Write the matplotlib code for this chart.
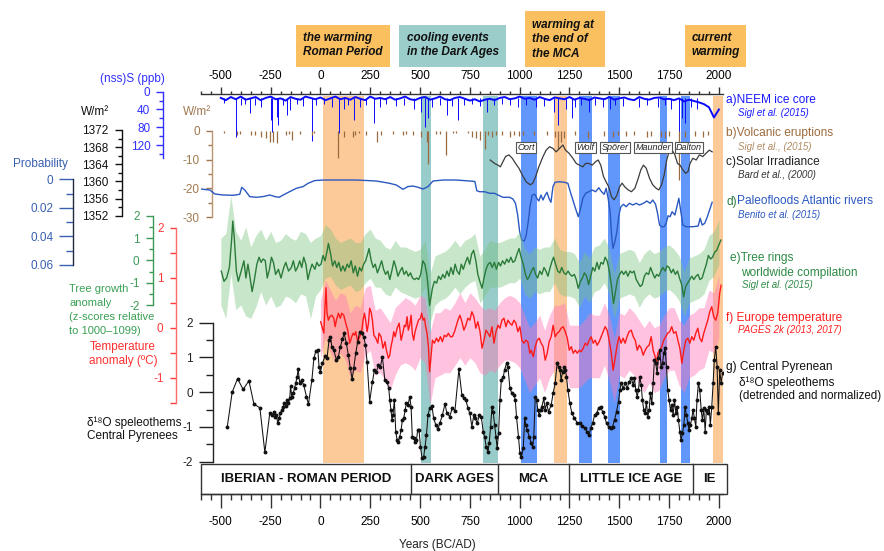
import numpy as np
import matplotlib
matplotlib.use("Agg")
import matplotlib.pyplot as plt
from matplotlib.patches import Rectangle

plt.rcParams['font.family'] = ['Liberation Sans', 'DejaVu Sans']
plt.rcParams['axes.unicode_minus'] = False

# ---------------------------------------------------------------- data
# a) NEEM ice core non-sea-salt sulphur (ppb): 25-yr background + eruption spikes
NEEM_BASE = [14, 19, 12, 17, 11, 18, 15, 12, 19, 14,
             11, 17, 15, 20, 12, 16, 18, 11, 14, 17,
             13, 19, 15, 11, 17, 14, 18, 12, 16, 19,
             11, 16, 14, 17, 12, 18, 15, 11, 17, 19,
             14, 12, 18, 15, 11, 17, 19, 14, 12, 16,
             20, 17, 22, 18, 16, 19, 14, 12, 17, 15,
             11, 16, 14, 18, 12, 16, 19, 13, 15, 17,
             12, 18, 14, 16, 19, 13, 15, 17, 12, 18,
             15, 13, 17, 19, 12, 16, 18, 14, 13, 17,
             16, 19, 15, 22, 18, 21, 24, 28, 35, 58,
             40]
NEEM_BASE_YEARS = np.arange(-500, 2001, 25)
NEEM_SPIKES = [(-483, 25), (-426, 103), (-400, 30), (-380, 28), (-355, 49), (-330, 30),
               (-300, 35), (-249, 64), (-243, 90), (-218, 56), (-211, 75), (-190, 30),
               (-166, 52), (-154, 41), (-120, 28), (-90, 32), (-44, 110), (-20, 30),
               (20, 28), (60, 35), (92, 94), (120, 40), (140, 30), (167, 64), (200, 35),
               (230, 30), (268, 71), (300, 35), (330, 28), (380, 32), (420, 30), (470, 38),
               (505, 45), (526, 80), (538, 60), (560, 35), (600, 30), (635, 52), (660, 32),
               (690, 64), (720, 30), (760, 28), (800, 32), (837, 45), (870, 30), (910, 28),
               (950, 30), (990, 35), (1030, 30), (1080, 35), (1120, 32), (1170, 45),
               (1191, 75), (1230, 40), (1265, 59), (1280, 35), (1310, 30), (1346, 45),
               (1380, 30), (1420, 35), (1455, 40), (1480, 30), (1520, 32), (1600, 35),
               (1640, 30), (1695, 35), (1730, 30), (1760, 38), (1800, 120), (1815, 60),
               (1830, 70), (1860, 35), (1890, 40)]

# b) volcanic forcing (W/m2)
VOLCANIC = [(-483, -0.9), (-418, -1.5), (-405, -1.2), (-350, -1.5), (-329, -1.5), (-296, -2.1),
            (-274, -2.7), (-254, -3.8), (-238, -3.8), (-218, -4.4), (-174, -1.5), (-157, -1.3),
            (-141, -3.2), (-104, -1.3), (-40, -1.5), (-33, -0.9), (90, -9.6), (117, -2.1),
            (164, -2.1), (175, -1.5), (194, -0.9), (227, -1.5), (284, -3.8), (306, -1.5),
            (364, -1.2), (414, -1.5), (428, -1.2), (465, -1.5), (506, -2.1), (535, -3.8),
            (541, -11.4), (582, -1.2), (598, -1.2), (632, -8.5), (665, -0.9), (682, -0.9),
            (740, -0.9), (759, -2.1), (781, -2.7), (802, -3.3), (825, -6.3), (842, -1.5),
            (863, -2.1), (883, -1.5), (911, -1.5), (949, -2.1), (970, -1.5), (997, -1.8),
            (1018, -1.5), (1070, -1.5), (1139, -1.5), (1177, -2.1), (1191, -6.3), (1205, -3.9),
            (1222, -2.5), (1277, -1.5), (1343, -2.7), (1424, -1.8), (1467, -2.1), (1493, -1.5),
            (1536, -1.8), (1574, -1.5), (1640, -2.1), (1661, -1.8), (1709, -2.1), (1730, -2.5),
            (1747, -1.8), (1800, -17.0), (1830, -2.1), (1882, -1.8), (1920, -2.1), (1947, -1.5)]

# c) total solar irradiance (W/m2)
SOLAR = [(852, 1365.0), (874, 1364.2), (891, 1363.8), (903, 1363.4), (916, 1364.6), (929, 1365.8),
         (946, 1366.2), (963, 1365.4), (979, 1364.2), (996, 1363.1), (1013, 1361.5), (1033, 1359.9),
         (1053, 1359.2), (1066, 1359.6), (1080, 1361.1), (1096, 1363.4), (1117, 1365.8),
         (1133, 1367.3), (1150, 1368.1), (1167, 1367.7), (1183, 1366.9), (1200, 1367.7),
         (1217, 1368.5), (1230, 1367.3), (1247, 1366.6), (1267, 1365.4), (1284, 1364.2),
         (1300, 1363.8), (1317, 1363.4), (1331, 1364.2), (1347, 1364.2), (1364, 1363.8),
         (1381, 1364.6), (1394, 1365.0), (1407, 1363.8), (1421, 1361.1), (1434, 1359.9),
         (1447, 1358.7), (1461, 1356.4), (1474, 1355.7), (1488, 1356.8), (1501, 1358.7),
         (1514, 1359.6), (1528, 1358.7), (1545, 1358.0), (1561, 1357.6), (1578, 1358.4),
         (1595, 1360.7), (1608, 1362.7), (1621, 1363.8), (1635, 1363.1), (1652, 1360.7),
         (1668, 1359.2), (1685, 1358.4), (1698, 1358.0), (1712, 1359.2), (1725, 1361.5),
         (1738, 1365.0), (1752, 1367.3), (1765, 1367.3), (1779, 1366.2), (1792, 1364.2),
         (1805, 1363.8), (1819, 1362.7), (1832, 1361.9), (1845, 1362.3), (1855, 1364.2),
         (1869, 1365.4), (1886, 1365.0), (1902, 1366.2), (1919, 1365.8), (1936, 1366.6),
         (1952, 1367.3), (1966, 1366.9)]

# d) palaeoflood probability, Atlantic rivers
FLOODS = [(-600, 0.0068), (-555, 0.0075), (-530, 0.0103), (-488, 0.0110), (-438, 0.0112),
          (-405, 0.0105), (-395, 0.0056), (-380, 0.0075), (-355, 0.0121), (-321, 0.0126),
          (-288, 0.0121), (-254, 0.0110), (-229, 0.0121), (-207, 0.0126), (-187, 0.0110),
          (-154, 0.0086), (-121, 0.0063), (-87, 0.0051), (-62, 0.0028), (-29, 0.0009),
          (13, 0.0005), (180, 0.0005), (281, 0.0012), (347, 0.0028), (381, 0.0040),
          (414, 0.0070), (439, 0.0051), (464, 0.0047), (490, 0.0056), (515, 0.0068),
          (540, 0.0051), (565, 0.0012), (615, 0.0005), (682, 0.0005), (749, 0.0012),
          (775, 0.0015), (785, 0.0080), (799, 0.0087), (824, 0.0087), (849, 0.0098),
          (874, 0.0098), (891, 0.0110), (916, 0.0126), (949, 0.0126), (966, 0.0138),
          (979, 0.0168), (990, 0.0250), (1000, 0.0367), (1010, 0.0425), (1023, 0.0432),
          (1033, 0.0390), (1043, 0.0297), (1053, 0.0180), (1063, 0.0110), (1076, 0.0105),
          (1086, 0.0133), (1096, 0.0152), (1107, 0.0110), (1117, 0.0145), (1127, 0.0114),
          (1137, 0.0091), (1147, 0.0133), (1157, 0.0161), (1167, 0.0052), (1177, 0.0021),
          (1200, 0.0017), (1225, 0.0021), (1242, 0.0028), (1254, 0.0087), (1267, 0.0145),
          (1280, 0.0203), (1294, 0.0262), (1304, 0.0215), (1317, 0.0133), (1331, 0.0098),
          (1347, 0.0087), (1364, 0.0075), (1381, 0.0087), (1397, 0.0059), (1411, 0.0087),
          (1424, 0.0105), (1434, 0.0063), (1444, 0.0133), (1454, 0.0227), (1461, 0.0390),
          (1468, 0.0483), (1478, 0.0437), (1488, 0.0367), (1498, 0.0250), (1508, 0.0192),
          (1521, 0.0175), (1534, 0.0192), (1551, 0.0168), (1568, 0.0180), (1585, 0.0168),
          (1601, 0.0180), (1621, 0.0168), (1638, 0.0152), (1655, 0.0168), (1668, 0.0145),
          (1682, 0.0175), (1692, 0.0238), (1702, 0.0320), (1712, 0.0332), (1725, 0.0332),
          (1735, 0.0308), (1745, 0.0255), (1755, 0.0262), (1765, 0.0227), (1779, 0.0250),
          (1789, 0.0192), (1799, 0.0133), (1809, 0.0227), (1819, 0.0320), (1835, 0.0332),
          (1869, 0.0332), (1896, 0.0327), (1906, 0.0273), (1916, 0.0320), (1929, 0.0308),
          (1942, 0.0262), (1956, 0.0203), (1966, 0.0161)]

# e) tree-ring growth anomaly (z-scores): smoothed curve and annual spread
TREE_SMOOTH = [(-498, -0.48), (-484, -0.94), (-471, -0.79), (-457, -0.32), (-446, 0.91), (-440, 1.76),
               (-433, 1.07), (-422, -0.48), (-412, -0.94), (-398, -0.48), (-384, -0.02), (-374, -0.79),
               (-364, -0.17), (-353, -0.79), (-343, -1.40), (-333, -0.94), (-319, -0.17), (-308, 0.14),
               (-298, -0.09), (-288, 0.06), (-277, -0.01), (-267, -0.79), (-256, -0.40), (-246, 0.14),
               (-236, -0.09), (-225, -0.63), (-211, -0.40), (-198, -0.79), (-184, -0.32), (-174, -0.09),
               (-160, -0.48), (-146, -0.32), (-136, -0.02), (-125, -0.48), (-115, -0.32), (-104, -0.02),
               (-94, -0.32), (-84, 0.14), (-73, -0.17), (-63, -0.86), (-53, -0.48), (-42, -0.17),
               (-28, -0.40), (-18, -0.09), (-8, -0.25), (3, -0.17), (13, 0.22), (23, -0.02),
               (34, 0.45), (40, 0.76), (51, 0.29), (61, -0.25), (72, -0.02), (82, -0.32), (92, -0.09),
               (103, -0.48), (113, -0.25), (123, -0.48), (134, -0.17), (144, -0.32), (154, -0.02),
               (165, -0.56), (175, -0.25), (186, -0.71), (196, -0.32), (206, -0.48), (217, -0.17),
               (227, -0.02), (237, 0.29), (244, 0.53), (255, -0.02), (265, -0.32), (275, -0.17),
               (286, -0.56), (296, -0.32), (307, -0.02), (317, -0.40), (327, -0.63), (338, -0.48),
               (348, -0.86), (358, -0.48), (369, -0.02), (379, -0.32), (389, -0.71), (400, -0.48),
               (410, -0.32), (420, -0.63), (431, -0.48), (441, -0.71), (452, -0.56), (462, -0.79),
               (472, -0.86), (483, -0.79), (493, -0.86), (503, -0.63), (514, -0.02), (524, -0.17),
               (534, -0.63), (541, -1.25), (548, -2.02), (555, -1.64), (562, -1.25), (572, -0.94),
               (583, -1.02), (593, -0.71), (604, -0.86), (614, -0.63), (624, -0.79), (635, -0.48),
               (645, -0.71), (655, -0.32), (666, -0.63), (676, -0.17), (686, -0.48), (697, -0.63),
               (707, -0.17), (717, -0.40), (728, -0.09), (738, 0.14), (749, -0.17), (759, 0.29),
               (769, 0.45), (780, -0.02), (790, -0.63), (800, -0.94), (811, -1.25), (821, -0.79),
               (831, -0.40), (842, -0.17), (852, -0.09), (862, -0.32), (873, -0.09), (883, -0.40),
               (894, -0.09), (904, -0.25), (914, -0.02), (925, -0.17), (935, 0.06), (945, -0.09),
               (956, 0.14), (966, -0.09), (976, -0.02), (987, 0.29), (997, 0.53), (1007, 0.14),
               (1018, -0.17), (1029, -0.63), (1039, -0.86), (1049, -0.71), (1059, -0.48), (1070, -0.32),
               (1080, -0.63), (1090, -0.79), (1101, -0.48), (1111, -0.63), (1122, -0.32), (1132, -0.48),
               (1142, -0.71), (1153, -0.32), (1163, -0.02), (1170, 0.14), (1180, -0.17), (1191, -0.48),
               (1201, -0.56), (1211, -0.32), (1222, -0.56), (1232, -0.63), (1243, -0.48), (1253, -0.63),
               (1263, -0.71), (1274, -0.63), (1284, -0.86), (1294, -1.25), (1305, -0.94), (1315, -0.79),
               (1325, -0.56), (1336, -0.71), (1346, -1.09), (1356, -0.71), (1367, -0.32), (1377, -0.48),
               (1388, -0.09), (1398, -0.40), (1408, -0.09), (1419, -0.17), (1429, 0.14), (1439, -0.02),
               (1450, -0.48), (1460, -1.09), (1471, -1.94), (1481, -1.40), (1491, -0.86), (1502, -0.63),
               (1512, -0.48), (1522, -0.63), (1533, -0.48), (1543, -0.71), (1554, -0.48), (1564, -0.56),
               (1574, -0.48), (1585, -0.86), (1595, -1.02), (1605, -1.17), (1615, -1.09), (1626, -0.71),
               (1636, -0.56), (1647, -0.63), (1657, -0.32), (1667, -0.56), (1678, -0.79), (1688, -0.63),
               (1698, -0.71), (1709, -0.48), (1719, -0.32), (1730, -0.48), (1740, -0.25), (1750, -0.32),
               (1761, -0.56), (1771, -0.40), (1781, -0.63), (1792, -0.48), (1802, -0.79), (1813, -1.09),
               (1823, -1.64), (1833, -1.17), (1843, -1.02), (1854, -0.86), (1864, -0.71), (1874, -0.86),
               (1885, -0.71), (1895, -0.63), (1905, -0.86), (1916, -0.79), (1926, -0.48), (1937, -0.17),
               (1947, 0.22), (1958, 0.06), (1968, 0.14), (1979, 0.37), (1989, 0.45), (2003, 0.76),
               (2010, 0.91)]
TREE_BAND_YEARS = np.arange(-500, 2001, 25)
TREE_HI = [1.0, 1.2, 2.9, 1.3, 0.9, 1.5, 0.6, 1.1, 1.4, 0.9,
           1.3, 0.8, 0.9, 1.2, 1.0, 0.9, 1.3, 1.2, 0.8, 1.0,
           1.1, 1.6, 1.4, 1.0, 0.8, 0.9, 1.0, 0.8, 0.8, 1.2,
           1.4, 1.0, 0.9, 0.6, 0.5, 0.9, 0.6, 0.6, 0.5, 0.4,
           0.5, 0.9, -0.6, 0.2, 0.3, 0.4, 0.6, 0.9, 0.6, 0.9,
           1.0, 1.2, 0.2, 0.5, 0.9, 0.8, 0.8, 0.9, 1.0, 1.0,
           1.3, 0.5, 0.3, 0.6, 0.5, 0.6, 0.6, 1.0, 0.5, 0.4,
           0.4, 0.3, -0.1, 0.4, 0.1, 0.6, 0.7, 1.0, 0.5, -0.6,
           0.3, 0.4, 0.5, 0.4, -0.1, 0.3, 0.5, 0.3, 0.4, 0.6,
           0.7, 0.5, 0.2, -0.5, 0.1, 0.2, 0.3, 0.5, 1.1, 1.3,
           1.8]
TREE_LO = [-2.0, -2.6, -0.6, -2.2, -2.0, -2.5, -2.6, -2.1, -1.4, -2.0,
           -1.6, -2.1, -2.0, -1.6, -1.7, -1.9, -1.5, -1.6, -2.6, -1.6,
           -1.3, -0.8, -0.7, -1.1, -1.3, -1.2, -1.1, -1.4, -1.3, -1.0,
           -0.8, -1.2, -1.2, -1.5, -1.6, -1.2, -1.4, -1.5, -1.6, -1.7,
           -1.6, -1.2, -2.8, -2.0, -1.8, -1.7, -1.5, -1.2, -1.5, -1.2,
           -1.0, -0.9, -1.9, -1.6, -1.2, -1.2, -1.2, -1.1, -1.0, -1.0,
           -0.8, -1.5, -1.7, -1.4, -1.5, -1.4, -1.4, -1.0, -1.5, -1.6,
           -1.6, -1.7, -2.1, -1.6, -1.9, -1.4, -1.3, -1.0, -1.5, -2.6,
           -1.7, -1.6, -1.5, -1.6, -2.1, -1.7, -1.5, -1.7, -1.6, -1.4,
           -1.3, -1.5, -1.8, -2.5, -1.9, -1.8, -1.7, -1.5, -0.9, -0.7,
           -0.2]

# f) European temperature anomaly (degC): smoothed curve and annual spread
TEMP_SMOOTH = [(1, 0.12), (17, -0.11), (23, 0.42), (28, 0.80), (33, 0.29), (40, 0.15), (47, 0.22),
               (57, 0.25), (67, 0.19), (74, 0.02), (80, 0.15), (90, 0.29), (100, 0.19), (107, 0.29),
               (117, 0.25), (127, 0.09), (137, -0.05), (147, -0.31), (157, -0.18), (164, -0.11),
               (171, -0.15), (177, -0.08), (187, -0.28), (197, -0.18), (207, -0.08), (214, 0.15),
               (221, 0.29), (227, 0.15), (234, -0.08), (241, 0.09), (247, 0.39), (254, 0.32),
               (261, 0.15), (268, -0.15), (278, -0.21), (288, -0.31), (294, -0.11), (304, -0.18),
               (314, -0.41), (324, -0.28), (331, -0.45), (341, -0.61), (348, -0.55), (354, -0.38),
               (361, -0.25), (368, -0.08), (375, -0.18), (385, -0.01), (395, 0.09), (405, -0.25),
               (415, -0.08), (421, 0.05), (428, 0.02), (435, 0.22), (441, -0.05), (448, 0.05),
               (455, 0.25), (461, -0.11), (468, -0.25), (475, -0.08), (482, 0.02), (492, 0.15),
               (502, 0.19), (508, 0.29), (515, 0.15), (522, 0.19), (528, 0.02), (535, -0.11),
               (542, -0.38), (548, -0.88), (555, -0.58), (562, -0.25), (572, -0.31), (582, -0.21),
               (592, -0.28), (602, -0.18), (612, -0.28), (622, -0.15), (632, -0.18), (642, -0.11),
               (652, -0.18), (662, -0.18), (673, -0.08), (690, 0.15), (700, 0.25), (710, 0.12),
               (720, -0.05), (730, 0.05), (740, 0.19), (750, 0.15), (760, 0.32), (770, 0.22),
               (780, -0.01), (790, 0.12), (801, -0.08), (811, -0.41), (821, -0.25), (831, -0.05),
               (841, -0.11), (851, -0.18), (861, 0.02), (871, -0.31), (881, -0.08), (891, 0.05),
               (901, -0.01), (911, 0.15), (921, 0.19), (931, 0.02), (941, 0.15), (951, 0.09),
               (961, 0.05), (971, 0.15), (981, 0.09), (991, -0.08), (1001, 0.02), (1011, -0.25),
               (1021, -0.31), (1031, -0.25), (1041, -0.28), (1051, -0.51), (1058, -0.45),
               (1068, -0.58), (1078, -0.38), (1088, -0.25), (1098, -0.21), (1108, -0.31),
               (1118, -0.38), (1128, -0.65), (1138, -0.51), (1148, -0.28), (1158, -0.18),
               (1168, 0.05), (1178, -0.18), (1188, -0.11), (1198, -0.08), (1208, -0.01),
               (1218, 0.02), (1229, -0.08), (1239, -0.21), (1249, -0.45), (1259, -0.38),
               (1269, -0.51), (1279, -0.45), (1289, -0.51), (1299, -0.45), (1309, -0.48),
               (1319, -0.41), (1329, -0.31), (1339, -0.35), (1349, -0.25), (1359, -0.18),
               (1369, -0.31), (1379, -0.25), (1389, -0.35), (1399, -0.28), (1409, -0.18),
               (1419, -0.08), (1429, 0.02), (1439, -0.05), (1449, -0.25), (1459, -0.48),
               (1469, -0.85), (1479, -0.61), (1489, -0.35), (1499, -0.18), (1509, -0.31),
               (1519, -0.21), (1529, -0.31), (1539, -0.18), (1549, -0.08), (1560, -0.05),
               (1570, -0.18), (1580, -0.25), (1590, -0.45), (1600, -0.35), (1610, -0.41),
               (1620, -0.55), (1630, -0.45), (1640, -0.38), (1650, -0.35), (1660, -0.18),
               (1670, -0.45), (1680, -0.58), (1687, -0.75), (1693, -0.51), (1703, -0.45),
               (1713, -0.38), (1723, -0.25), (1733, -0.18), (1743, -0.11), (1753, -0.08),
               (1763, 0.02), (1773, -0.11), (1784, -0.08), (1794, -0.25), (1804, -0.41),
               (1814, -0.71), (1824, -0.45), (1834, -0.25), (1844, -0.21), (1854, -0.31),
               (1864, -0.18), (1874, -0.25), (1884, -0.11), (1894, -0.01), (1904, -0.21),
               (1914, -0.28), (1924, -0.11), (1934, 0.02), (1944, 0.15), (1954, 0.32),
               (1964, 0.42), (1974, 0.22), (1984, 0.15), (1994, 0.29), (2004, 0.69), (2011, 0.85)]
TEMP_BAND_YEARS = np.arange(0, 2001, 25)
TEMP_HI = [0.55, 0.95, 0.75, 0.55, 0.7, 0.65, 0.3, 0.45, 0.4, 0.8,
           0.85, 0.35, 0.4, 0.25, 0.1, 0.4, 0.5, 0.6, 0.55, 0.45,
           0.65, 0.6, -0.1, 0.3, 0.3, 0.4, 0.35, 0.5, 0.7, 0.5,
           0.7, 0.6, 0.45, 0.35, 0.4, 0.35, 0.5, 0.6, 0.65, 0.6,
           0.5, 0.25, 0.0, 0.1, 0.25, -0.05, 0.25, 0.45, 0.45, 0.5,
           0.05, 0.05, 0.05, 0.15, 0.3, 0.25, 0.25, 0.5, 0.25, -0.2,
           0.3, 0.25, 0.4, 0.3, 0.15, 0.0, 0.15, 0.0, 0.05, 0.25,
           0.4, 0.4, 0.15, 0.05, 0.25, 0.3, 0.4, 0.4, 0.75, 0.7,
           1.05]
TEMP_LO = [-0.6, -0.2, -0.5, -0.7, -0.5, -0.65, -1.0, -0.85, -0.9, -0.55,
           -0.45, -0.95, -0.9, -1.05, -1.25, -0.95, -0.75, -0.7, -0.75, -0.85,
           -0.6, -0.7, -1.55, -1.0, -0.95, -0.9, -0.9, -0.75, -0.6, -0.75,
           -0.6, -0.7, -0.9, -0.95, -0.85, -0.9, -0.75, -0.65, -0.65, -0.7,
           -0.8, -1.05, -1.3, -1.15, -1.0, -1.3, -1.0, -0.85, -0.8, -0.8,
           -1.2, -1.2, -1.2, -1.1, -1.0, -1.0, -1.0, -0.75, -1.05, -1.5,
           -0.95, -1.0, -0.85, -0.95, -1.15, -1.3, -1.1, -1.3, -1.25, -1.0,
           -0.85, -0.85, -1.15, -1.3, -1.0, -0.95, -0.85, -0.8, -0.45, -0.5,
           -0.2]

# g) Central Pyrenean speleothem d18O (detrended, normalised)
SPELEOTHEM = [(-468, -1.01), (-443, 0.00), (-416, 0.39), (-388, 0.08), (-359, 0.33), (-334, -0.34),
              (-304, -0.45), (-279, -1.73), (-254, -0.59), (-241, -0.66), (-234, -0.56), (-227, -0.70),
              (-221, -0.66), (-214, -0.90), (-207, -0.75), (-201, -0.61), (-194, -0.51), (-187, -0.42),
              (-181, -0.32), (-174, -0.40), (-167, -0.22), (-161, -0.32), (-154, -0.18), (-150, 0.18),
              (-144, -0.13), (-137, -0.03), (-130, 0.11), (-124, 0.26), (-117, 0.45), (-112, 0.66),
              (-104, 0.26), (-95, 0.35), (-84, 0.21), (-70, -0.13), (-60, -0.34), (-43, 0.35),
              (-33, 0.97), (-23, 1.19), (-13, 1.21), (-7, 0.73), (0, 0.59), (10, 0.83), (23, 1.04),
              (33, 0.97), (43, 1.50), (50, 1.60), (57, 1.31), (67, 1.21), (80, 0.93), (90, 1.02),
              (100, 1.31), (110, 1.52), (119, 1.69), (130, 1.41), (140, 1.07), (150, 0.69),
              (159, 0.37), (167, 0.69), (177, 1.12), (187, 1.45), (197, 1.74), (207, 1.69),
              (217, 1.60), (226, 1.36), (234, 0.88), (247, -0.27), (261, 0.30), (271, 0.64),
              (281, 0.59), (291, 0.78), (301, 0.73), (311, 1.02), (323, 0.35), (334, 0.30),
              (343, 0.11), (348, -0.22), (354, -0.51), (359, -0.80), (364, -0.66), (371, -0.22),
              (378, -1.14), (385, -1.38), (391, -1.42), (398, -1.28), (405, -1.09), (411, -0.80),
              (418, -0.75), (425, -0.51), (431, -0.32), (440, -0.37), (448, -0.13), (455, -0.42),
              (461, -1.28), (468, -1.33), (475, -1.42), (482, -1.38), (488, -1.09), (495, -1.09),
              (502, -1.57), (510, -1.90), (518, -1.86), (525, -1.57), (532, -1.23), (540, -0.66),
              (548, -0.46), (560, -0.40), (568, -0.75), (579, -0.94), (589, -1.07), (599, -0.90),
              (612, -0.66), (625, -0.34), (635, -0.61), (649, -0.70), (662, -0.45), (675, -0.54),
              (695, 0.66), (710, -0.08), (720, -0.18), (730, -0.22), (740, -0.46), (750, -0.61),
              (760, -0.99), (770, -0.66), (777, -0.75), (787, -0.90), (797, -0.66), (807, -0.70),
              (817, -1.14), (824, -1.28), (832, -1.57), (841, -1.71), (847, -1.47), (854, -0.99),
              (861, -0.42), (867, -0.56), (874, -0.94), (881, -1.28), (887, -1.62), (894, -1.18),
              (901, -0.22), (908, 0.35), (918, 0.45), (924, 0.64), (934, 0.83), (941, 0.73),
              (951, 0.11), (961, -0.03), (971, -0.08), (978, -0.22), (984, -0.70), (994, -1.28),
              (1001, -1.76), (1008, -1.86), (1018, -1.62), (1025, -0.75), (1031, -0.94),
              (1038, -1.09), (1048, -1.28), (1058, -1.47), (1065, -1.57), (1071, -1.28),
              (1078, -0.13), (1085, -0.22), (1091, -0.51), (1098, -0.66), (1105, -0.51),
              (1111, -0.42), (1121, -0.18), (1128, -0.51), (1135, -0.32), (1145, -0.56),
              (1158, -0.37), (1168, -0.03), (1178, 0.26), (1188, 0.83), (1195, 0.73), (1202, 0.64),
              (1208, 0.35), (1215, 0.59), (1222, 0.73), (1229, 0.64), (1235, 0.45), (1242, 0.06),
              (1252, -0.32), (1262, -0.61), (1275, -0.75), (1289, -0.88), (1302, -0.90),
              (1315, -0.97), (1329, -1.04), (1339, -1.14), (1349, -1.23), (1356, -1.04),
              (1366, -0.90), (1376, -0.66), (1386, -0.61), (1396, -0.46), (1406, -0.42),
              (1416, -0.56), (1426, -0.70), (1436, -0.90), (1446, -0.99), (1456, -1.04),
              (1466, -0.99), (1476, -0.80), (1486, -0.56), (1496, -0.27), (1503, 0.06), (1509, 0.26),
              (1519, 0.11), (1529, 0.26), (1539, 0.11), (1549, 0.30), (1560, 0.40), (1570, 0.21),
              (1576, 0.40), (1583, 0.06), (1590, -0.13), (1596, 0.06), (1603, 0.45), (1610, 0.21),
              (1616, -0.22), (1623, -0.51), (1630, -0.61), (1636, -0.27), (1643, -0.70),
              (1650, -0.51), (1656, -0.03), (1663, -0.32), (1670, 0.26), (1676, 0.93), (1683, 0.83),
              (1690, 0.54), (1696, 0.97), (1703, 1.21), (1710, 0.73), (1717, 0.83), (1723, 1.12),
              (1730, 1.26), (1737, 0.73), (1743, 0.06), (1750, -0.22), (1757, -0.51), (1764, -0.37),
              (1770, -0.66), (1777, -0.22), (1784, -0.61), (1790, -0.42), (1797, -0.80),
              (1804, -1.14), (1810, -1.38), (1817, -1.18), (1824, -0.94), (1830, -0.42),
              (1837, -0.66), (1844, -0.90), (1850, -1.09), (1857, -0.94), (1864, -0.75),
              (1870, -0.51), (1877, -0.75), (1884, -0.99), (1890, -0.22), (1897, 0.26), (1904, 0.06),
              (1911, -0.51), (1917, -0.80), (1924, -0.46), (1931, -1.14), (1937, -0.51),
              (1944, -0.61), (1951, -0.42), (1957, -0.94), (1964, -0.42), (1971, 0.26), (1977, 0.93),
              (1984, 1.31), (1991, 0.73), (1997, -0.61), (2004, 0.64), (2011, 0.26), (2018, 0.54)]

# shaded climate episodes (start, end, kind)
EPISODES = [(12, 217, 'warm'), (505, 555, 'cool'), (817, 893, 'cool'), (1006, 1086, 'solar'),
            (1170, 1238, 'warm'), (1296, 1361, 'solar'), (1443, 1502, 'solar'),
            (1702, 1739, 'solar'), (1809, 1856, 'solar'), (1971, 2023, 'warm')]
SOLAR_MINIMA = [('Oort', 1032), ('Wolf', 1329), ('Spörer', 1478), ('Maunder', 1670), ('Dalton', 1850)]
PERIODS = ['IBERIAN - ROMAN PERIOD', 'DARK AGES', 'MCA', 'LITTLE ICE AGE', 'IE']
PERIOD_EDGES = [-600, 453, 892, 1247, 1868, 2040]

# ---------------------------------------------------------------- layout helpers
W, H = 884, 551
XMIN, XMAX = -600, 2020
X0, X1 = 200.9, 722.9          # horizontal pixel span of the time axis

fig = plt.figure(figsize=(W / 100, H / 100), dpi=100)
fig.patch.set_facecolor('white')


def fx(x):
    return x / W


def fy(y):
    return 1 - y / H


def ftext(x, y, s, **kw):
    kw.setdefault('va', 'center')
    return fig.text(fx(x), fy(y), s, **kw)


def series_axes(v1, p1, v2, p2):
    """Transparent full-height axes whose y scale puts v1 at pixel row p1 and v2 at p2."""
    ax = fig.add_axes([fx(X0), 0, (X1 - X0) / W, 1])
    s = (v2 - v1) / (p2 - p1)
    ax.set_ylim(v1 + s * (H - p1), v1 - s * p1)
    ax.set_xlim(XMIN, XMAX)
    ax.patch.set_visible(False)
    for sp in ax.spines.values():
        sp.set_visible(False)
    ax.set_xticks([])
    ax.set_yticks([])
    return ax


def left_scale(ax, spine_x, lo, hi, majors, minors, color, labels=None, spine_color=None,
               maj=5, mnr=3, pad=4.5):
    sp = ax.spines['left']
    sp.set_visible(True)
    sp.set_position(('axes', (spine_x - X0) / (X1 - X0)))
    sp.set_bounds(lo, hi)
    sp.set_color(spine_color or color)
    sp.set_linewidth(1.0)
    if labels is None:
        labels = [f'{m:g}' for m in majors]
    ax.set_yticks(majors, labels=labels)
    ax.set_yticks(minors, minor=True)
    ax.tick_params(axis='y', which='major', direction='out', length=maj, width=1.0,
                   colors=color, labelsize=8.5, pad=pad)
    ax.tick_params(axis='y', which='minor', direction='out', length=mnr, width=1.0, color=color)


# ---------------------------------------------------------------- time frame, bands, periods
TOP_Y, BOT_Y = 93.5, 493.6
fr = fig.add_axes([fx(X0), fy(BOT_Y), (X1 - X0) / W, (BOT_Y - TOP_Y) / H])
fr.set_xlim(XMIN, XMAX)
fr.set_ylim(0, 1)
fr.patch.set_visible(False)
for side in ('left', 'right'):
    fr.spines[side].set_visible(False)
for side in ('top', 'bottom'):
    fr.spines[side].set_color('#333333')
    fr.spines[side].set_linewidth(1.0)
fr.set_yticks([])
major_years = np.arange(-500, 2001, 250)
minor_years = np.arange(-600, 2001, 50)
fr.set_xticks(major_years, labels=[str(v) for v in major_years])
fr.set_xticks(minor_years, minor=True)
fr.tick_params(axis='x', which='major', direction='out', length=10, width=1.0,
               color='#333333', labelsize=8.5, pad=6)
fr.tick_params(axis='x', which='minor', direction='out', length=4, width=1.0, color='#333333')

top = fr.twiny()
top.set_xlim(XMIN, XMAX)
for sp in top.spines.values():
    sp.set_visible(False)
top.set_xticks(major_years, labels=[str(v) for v in major_years])
top.set_xticks(minor_years, minor=True)
top.tick_params(axis='x', which='major', direction='out', length=5, width=1.0,
                color='#333333', labelsize=8.5, pad=3)
top.tick_params(axis='x', which='minor', direction='out', length=2.5, width=1.0, color='#333333')

band_colors = {'warm': '#fcc999', 'cool': '#97ccca', 'solar': '#6197fb'}
band_lo = (BOT_Y - 463) / (BOT_Y - TOP_Y)
band_hi = (BOT_Y - 96) / (BOT_Y - TOP_Y)
for a, b, kind in EPISODES:
    fr.axvspan(a, b, ymin=band_lo, ymax=band_hi, color=band_colors[kind], lw=0, zorder=0)

box_h = (BOT_Y - 464) / (BOT_Y - TOP_Y)
fr.add_patch(Rectangle((PERIOD_EDGES[0], 0), PERIOD_EDGES[-1] - PERIOD_EDGES[0], box_h,
                       fill=False, ec='#333333', lw=1.0, clip_on=False, zorder=3))
for edge in PERIOD_EDGES[1:-1]:
    fr.plot([edge, edge], [0, box_h], color='#333333', lw=1.0, zorder=3)
for name, a, b in zip(PERIODS, PERIOD_EDGES[:-1], PERIOD_EDGES[1:]):
    fr.text((a + b) / 2, box_h / 2, name, ha='center', va='center', fontsize=9.5,
            fontweight='bold', color='#111111', clip_on=False)

ftext(437, 545, 'Years (BC/AD)', ha='center', fontsize=8.5, color='#222222')

# ---------------------------------------------------------------- a) NEEM sulphur
ax_a = series_axes(0, 91.7, 120, 145.0)
ax_a.plot(NEEM_BASE_YEARS, NEEM_BASE, color='#0a0aff', lw=1.4, zorder=2)
sy, sv = zip(*NEEM_SPIKES)
ax_a.vlines(sy, 14, sv, color='#0a0aff', lw=0.7)
left_scale(ax_a, 163.3, 0, 150, [0, 40, 80, 120], [20, 60, 100, 140], '#3030ff',
           maj=4.8, mnr=3)
ftext(132, 79, '(nss)S (ppb)', ha='center', fontsize=8.5, color='#3030ff')

# ---------------------------------------------------------------- b) volcanic forcing
ax_b = series_axes(0, 130.7, -30, 217.3)
vy, vv = zip(*VOLCANIC)
ax_b.vlines(vy, 0, vv, color='#9a6a40', lw=0.9)
left_scale(ax_b, 212.3, -30, 0, [0, -10, -20, -30], [-5, -15, -25], '#a0784f',
           spine_color='#b89470', maj=4.5, mnr=3)
ftext(197, 112, 'W/m²', ha='center', fontsize=8.5, color='#a0784f')

# ---------------------------------------------------------------- c) solar irradiance
ax_c = series_axes(1372, 130.0, 1352, 215.7)
cy, cv = zip(*SOLAR)
ax_c.plot(cy, cv, color='#3c3c3c', lw=0.9)
left_scale(ax_c, 121.7, 1352, 1372, np.arange(1352, 1373, 4), np.arange(1354, 1372, 4),
           '#111111', maj=5, mnr=3)
ftext(95, 112, 'W/m²', ha='center', fontsize=8.5, color='#111111')

# ---------------------------------------------------------------- d) palaeofloods
ax_d = series_axes(0, 179.3, 0.06, 265.0)
dy, dv = zip(*FLOODS)
ax_d.plot(dy, dv, color='#2b58c0', lw=1.0)
left_scale(ax_d, 73.3, 0, 0.06, [0, 0.02, 0.04, 0.06], [0.01, 0.03, 0.05], '#3a5fb0',
           labels=['0', '0.02', '0.04', '0.06'], spine_color='#202a40', maj=10, mnr=5)
ftext(40, 163.5, 'Probability', ha='center', fontsize=8.5, color='#3a5fb0')

# ---------------------------------------------------------------- e) tree rings
ax_e = series_axes(2, 215.7, -2, 305.0)
ax_e.fill_between(TREE_BAND_YEARS, TREE_LO, TREE_HI, color='#7cc47f', alpha=0.42, lw=0)
ey, ev = zip(*TREE_SMOOTH)
ax_e.plot(ey, ev, color='#2a7a3a', lw=1.0)
left_scale(ax_e, 152.7, -2, 2, [-2, -1, 0, 1, 2], [-1.5, -0.5, 0.5, 1.5], '#3a9a55',
           maj=5, mnr=3)
for i, line in enumerate(['Tree growth', 'anomaly', '(z-scores relative', 'to 1000–1099)']):
    ftext(69, 289 + 14 * i, line, ha='left', fontsize=8.0, color='#3aa055')

# ---------------------------------------------------------------- f) European temperature
ax_f = series_axes(2, 227.7, -1, 377.7)
ax_f.fill_between(TEMP_BAND_YEARS, TEMP_LO, TEMP_HI, color='#ff7ab8', alpha=0.45, lw=0)
fy_, fv = zip(*TEMP_SMOOTH)
ax_f.plot(fy_, fv, color='#ff1a1a', lw=1.0)
left_scale(ax_f, 176, -1.5, 2, [-1, 0, 1, 2], [-1.5, -0.5, 0.5, 1.5], '#ff3a3a',
           spine_color='#ff6a6a', maj=4.5, mnr=4.5)
ftext(123, 347, 'Temperature', ha='center', fontsize=8.5, color='#ff3030')
ftext(123, 361, 'anomaly (ºC)', ha='center', fontsize=8.5, color='#ff3030')

# ---------------------------------------------------------------- g) speleothems
ax_g = series_axes(2, 322.7, -2, 461.7)
gy, gv = zip(*SPELEOTHEM)
ax_g.plot(gy, gv, color='#111111', lw=0.75, marker='o', ms=1.8, mec='#111111', mfc='#111111')
left_scale(ax_g, 213.3, -2, 2, [-2, -1, 0, 1, 2], [-1.5, -0.5, 0.5, 1.5], '#222222',
           maj=10, mnr=5)
ftext(87, 423, 'δ¹⁸O speleothems', ha='left', fontsize=8.5, color='#111111')
ftext(87, 436, 'Central Pyrenees', ha='left', fontsize=8.5, color='#111111')

# ---------------------------------------------------------------- solar minima tags
for name, yr in SOLAR_MINIMA:
    ax_c.text(yr, 1367.9, name, ha='center', va='center', fontsize=6.5, style='italic',
              color='#222222',
              bbox=dict(boxstyle='square,pad=0.15', fc='white', ec='#555555', lw=0.8))


# ---------------------------------------------------------------- right-hand captions
def right_text(x, y, s, color, size=8.6, style='normal'):
    ftext(x, y, s, ha='left', fontsize=size, color=color, style=style)


right_text(726.5, 100, 'a)NEEM ice core', '#1a1aff')
right_text(738, 113, 'Sigl et al. (2015)', '#1a1aff', 7, 'italic')
right_text(726.5, 133, 'b)Volcanic eruptions', '#9c6a3c')
right_text(738, 146.5, 'Sigl et al., (2015)', '#b08a60', 7, 'italic')
right_text(726.5, 162, 'c)Solar Irradiance', '#222222')
right_text(738, 175, 'Bard et al., (2000)', '#333333', 7, 'italic')
right_text(726.5, 201.5, 'd)', '#2e8040')
right_text(737, 201.5, 'Paleofloods Atlantic rivers', '#2b58c0')
right_text(738, 215, 'Benito et al. (2015)', '#2b58c0', 7, 'italic')
right_text(730, 258, 'e)Tree rings', '#2e8a45')
right_text(741, 272.5, 'worldwide compilation', '#2e8a45')
right_text(741.5, 285.5, 'Sigl et al. (2015)', '#2e8a45', 7, 'italic')
right_text(726.5, 317.5, 'f) Europe temperature', '#ff2020')
right_text(738, 330, 'PAGES 2k (2013, 2017)', '#ff2020', 7, 'italic')
right_text(726.5, 367, 'g) Central Pyrenean', '#111111')
right_text(739, 383, 'δ¹⁸O speleothems', '#111111')
right_text(739, 396, '(detrended and normalized)', '#111111', 8.3)

# ---------------------------------------------------------------- episode headers
HEADERS = [((296.4, 24.8, 390.4, 67.1), '#fac05f', ['the warming', 'Roman Period'], 303.3, 37.9),
           ((399.4, 24.8, 506.0, 67.1), '#9bcecb', ['cooling events', 'in the Dark Ages'], 406.6, 37.9),
           ((525.4, 11.4, 604.6, 67.1), '#fac05f', ['warming at', 'the end of', 'the MCA'], 532.3, 25.1),
           ((684.5, 24.8, 746.0, 67.1), '#fac05f', ['current', 'warming'], 691.7, 37.9)]
for (x_a, y_a, x_b, y_b), col, lines, tx, ty in HEADERS:
    fig.add_artist(Rectangle((fx(x_a), fy(y_b)), (x_b - x_a) / W, (y_b - y_a) / H,
                             transform=fig.transFigure, fc=col, ec='none'))
    for i, line in enumerate(lines):
        ftext(tx, ty + 14.3 * i, line, ha='left', fontsize=8.5, fontweight='bold',
              style='italic', color='#111111')

fig.savefig('out.png', dpi=100, facecolor='white')
